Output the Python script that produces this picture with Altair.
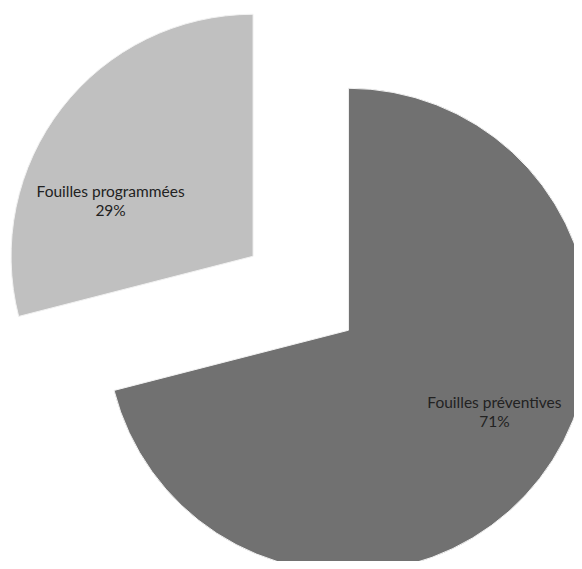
import altair as alt
import pandas as pd

categories = ["Fouilles préventives", "Fouilles programmées"]
values = [71, 29]
order = [1, 2]
colors = ["#717171", "#c0c0c0"]

df = pd.DataFrame({"cat": categories, "value": values, "order": order})

CX, CY = 292.75, 285.25   # pie centre (chart px)
EXPLODE = 60.35           # explosion distance
R = 242                   # radius
LABEL_R = 159.8
LABEL_SHIFT = -0.2147     # radians

base = (
    alt.Chart(df)
    .transform_joinaggregate(total="sum(value)")
    .transform_window(cum="sum(value)", sort=[alt.SortField("order")], frame=[None, 0])
    .transform_calculate(
        t1="2*PI*(datum.cum - datum.value)/datum.total",
        t2="2*PI*datum.cum/datum.total",
    )
    .transform_calculate(mid="(datum.t1 + datum.t2)/2")
    .transform_calculate(
        cx=f"{CX} + {EXPLODE}*sin(datum.mid)",
        cy=f"{CY} - {EXPLODE}*cos(datum.mid)",
    )
    .transform_calculate(
        lx=f"datum.cx + {LABEL_R}*sin(datum.mid + ({LABEL_SHIFT}))",
        ly=f"datum.cy - {LABEL_R}*cos(datum.mid + ({LABEL_SHIFT}))",
        label="[datum.cat, round(100*datum.value/datum.total) + '%']",
    )
)

arcs = base.mark_arc(radius=R, stroke="#f2f2f2", strokeWidth=1, clip=True).encode(
    x=alt.X("cx:Q", scale=None, axis=None),
    y=alt.Y("cy:Q", scale=None, axis=None),
    theta=alt.Theta("t1:Q", scale=None),
    theta2="t2:Q",
    color=alt.Color("cat:N", scale=alt.Scale(domain=categories, range=colors), legend=None),
)

labels = base.mark_text(
    font="Lato", fontSize=15.5, color="#222222", align="center", baseline="middle",
    dx=1.75, dy=4.25, lineHeight=19,
).encode(
    x=alt.X("lx:Q", scale=None, axis=None),
    y=alt.Y("ly:Q", scale=None, axis=None),
    text=alt.Text("label:N"),
)

chart = (
    alt.layer(arcs, labels)
    .properties(width=566, height=553, padding=0)
    .configure_view(stroke=None)
)

chart.save("out.html", embed_options={"renderer": "svg", "actions": False})
